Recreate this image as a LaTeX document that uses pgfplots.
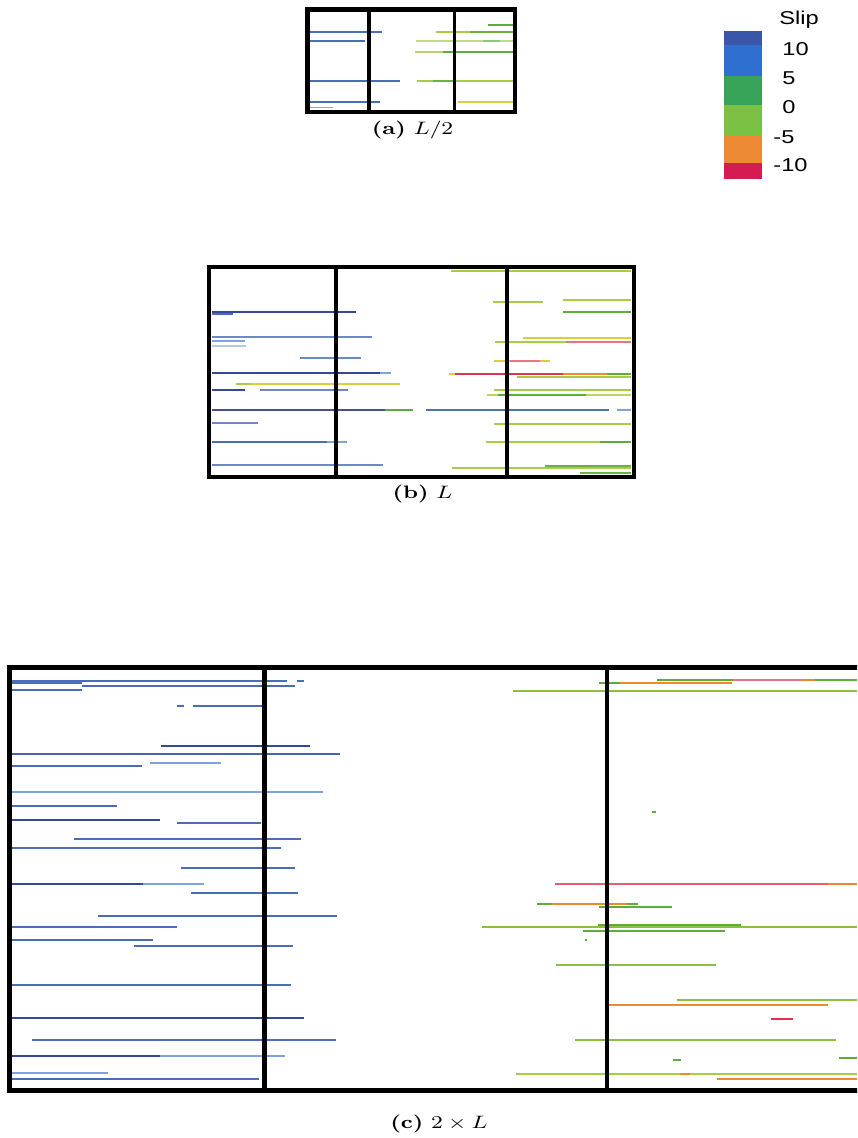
\documentclass[border=0pt]{standalone}
\usepackage{pgfplots}
\pgfplotsset{compat=1.18}
\usepackage{graphicx}
\usepackage{fontspec}
\newfontfamily\cbfont{Liberation Sans}

% slip colour bands
\definecolor{cbA}{HTML}{3A56A8}
\definecolor{cbB}{HTML}{2F6FCF}
\definecolor{cbC}{HTML}{38A45A}
\definecolor{cbD}{HTML}{7CC144}
\definecolor{cbE}{HTML}{EE8A35}
\definecolor{cbF}{HTML}{D61A52}
% rupture segment colours
\definecolor{bl}{HTML}{4A6DB8}
\definecolor{blL}{HTML}{7FA3DA}
\definecolor{blD}{HTML}{34499A}
\definecolor{blV}{HTML}{4B4D95}
\definecolor{gr}{HTML}{5EAC3C}
\definecolor{yg}{HTML}{A8CC42}
\definecolor{ye}{HTML}{D8CF3C}
\definecolor{og}{HTML}{EE8A2E}
\definecolor{rd}{HTML}{E0334F}
\definecolor{pk}{HTML}{EC7482}

\newcommand{\capt}[1]{\scalebox{1.27}[1]{\fontsize{9}{10}\selectfont #1}}
\newcommand{\cbl}[1]{\scalebox{1.27}[1]{\cbfont\fontsize{9.3}{10}\selectfont #1}}

\begin{document}
\begin{tikzpicture}
\begin{axis}[
  scale only axis, width=428.5pt, height=569pt,
  xmin=0, xmax=857, ymin=0, ymax=1138, y dir=reverse,
  hide axis, no marks,
  every axis plot/.append style={line width=0.75pt},
]
\addplot[draw=none] coordinates {(0,0) (857,1138)};

% ---------------- (a) L/2 ----------------
\addplot[bl] coordinates {(310,32) (382,32)};
\addplot[bl] coordinates {(310,41) (365,41)};
\addplot[bl] coordinates {(310,81) (400,81)};
\addplot[bl] coordinates {(310,102) (380,102)};
\addplot[blD!50, line width=0.5pt] coordinates {(310,108) (333,108)};
\addplot[gr] coordinates {(488,25) (513,25)};
\addplot[yg] coordinates {(436,32) (470,32)};
\addplot[gr!80!yg] coordinates {(470,32) (513,32)};
\addplot[yg!70] coordinates {(416,41) (513,41)};
\addplot[gr!70] coordinates {(483,41) (500,41)};
\addplot[yg!80] coordinates {(415,52) (443,52)};
\addplot[gr, line width=1.2pt] coordinates {(443,52) (513,52)};
\addplot[yg] coordinates {(417,81) (513,81)};
\addplot[gr!80!yg] coordinates {(433,81) (453,81)};
\addplot[ye] coordinates {(458,102) (513,102)};

% ---------------- (b) L ----------------
\addplot[blD] coordinates {(212,312) (356,312)};
\addplot[bl] coordinates {(212,314) (233,314)};
\addplot[bl!80] coordinates {(212,337) (372,337)};
\addplot[blL] coordinates {(212,341) (245,341)};
\addplot[blL!60] coordinates {(212,346) (246,346)};
\addplot[bl!80] coordinates {(300,358) (361,358)};
\addplot[blD] coordinates {(212,373) (380,373)};
\addplot[blL] coordinates {(380,373) (391,373)};
\addplot[yg] coordinates {(236,384) (250,384)};
\addplot[ye] coordinates {(250,384) (400,384)};
\addplot[blD] coordinates {(212,390) (245,390)};
\addplot[bl!80] coordinates {(260,390) (348,390)};
\addplot[blV] coordinates {(212,410) (385,410)};
\addplot[gr] coordinates {(385,410) (413,410)};
\addplot[bl!90!gr] coordinates {(426,410) (609,410)};
\addplot[blL] coordinates {(617,410) (631,410)};
\addplot[bl!80] coordinates {(212,423) (258,423)};
\addplot[bl] coordinates {(212,442) (327,442)};
\addplot[blL] coordinates {(327,442) (347,442)};
\addplot[bl!80] coordinates {(212,465) (383,465)};

\addplot[yg] coordinates {(451,271) (631,271)};
\addplot[yg] coordinates {(563,300) (631,300)};
\addplot[yg] coordinates {(493,302) (543,302)};
\addplot[gr, line width=1pt] coordinates {(563,312) (631,312)};
\addplot[ye] coordinates {(523,338) (631,338)};
\addplot[yg] coordinates {(495,342) (566,342)};
\addplot[pk] coordinates {(566,342) (631,342)};
\addplot[ye] coordinates {(494,361) (510,361)};
\addplot[pk] coordinates {(510,361) (540,361)};
\addplot[ye] coordinates {(540,361) (550,361)};
\addplot[ye] coordinates {(449,374) (455,374)};
\addplot[rd] coordinates {(455,374) (563,374)};
\addplot[og] coordinates {(563,374) (607,374)};
\addplot[gr] coordinates {(607,374) (631,374)};
\addplot[yg] coordinates {(517,377) (631,377)};
\addplot[yg] coordinates {(494,390) (631,390)};
\addplot[yg!80] coordinates {(487,395) (631,395)};
\addplot[gr] coordinates {(498,395) (586,395)};
\addplot[yg] coordinates {(494,424) (631,424)};
\addplot[yg] coordinates {(486,442) (600,442)};
\addplot[gr] coordinates {(600,442) (631,442)};
\addplot[gr!80!yg] coordinates {(545,466) (631,466)};
\addplot[yg] coordinates {(452,468) (631,468)};
\addplot[gr!80!yg] coordinates {(580,473) (631,473)};

% ---------------- (c) 2 x L ----------------
\addplot[bl, line width=1pt] coordinates {(12,681) (287,681)};
\addplot[bl, line width=1pt] coordinates {(297,681) (304,681)};
\addplot[bl, line width=1pt] coordinates {(12,683) (82,683)};
\addplot[bl, line width=1pt] coordinates {(82,686) (295,686)};
\addplot[bl, line width=1pt] coordinates {(12,690) (82,690)};
\addplot[bl, line width=1pt] coordinates {(177,706) (184,706)};
\addplot[bl, line width=1pt] coordinates {(193,706) (262,706)};
\addplot[blD, line width=1pt] coordinates {(161,746) (310,746)};
\addplot[bl!70!blV, line width=1pt] coordinates {(12,754) (340,754)};
\addplot[blL, line width=1pt] coordinates {(150,763) (221,763)};
\addplot[bl, line width=1pt] coordinates {(12,766) (142,766)};
\addplot[blL, line width=1pt] coordinates {(12,792) (323,792)};
\addplot[bl, line width=1pt] coordinates {(12,806) (117,806)};
\addplot[blD, line width=1pt] coordinates {(12,820) (160,820)};
\addplot[bl, line width=1pt] coordinates {(177,823) (261,823)};
\addplot[bl, line width=1pt] coordinates {(74,839) (301,839)};
\addplot[bl, line width=1pt] coordinates {(12,848) (281,848)};
\addplot[bl, line width=1pt] coordinates {(181,868) (295,868)};
\addplot[blD, line width=1pt] coordinates {(12,884) (143,884)};
\addplot[blL, line width=1pt] coordinates {(143,884) (204,884)};
\addplot[bl, line width=1pt] coordinates {(191,893) (298,893)};
\addplot[bl, line width=1pt] coordinates {(98,916) (337,916)};
\addplot[bl, line width=1pt] coordinates {(12,927) (177,927)};
\addplot[bl, line width=1pt] coordinates {(12,940) (153,940)};
\addplot[bl, line width=1pt] coordinates {(134,946) (293,946)};
\addplot[bl, line width=1pt] coordinates {(12,985) (291,985)};
\addplot[blD, line width=1pt] coordinates {(12,1018) (304,1018)};
\addplot[bl, line width=1pt] coordinates {(32,1040) (336,1040)};
\addplot[blD, line width=1.2pt] coordinates {(12,1056) (160,1056)};
\addplot[blL, line width=1pt] coordinates {(160,1056) (285,1056)};
\addplot[blL, line width=1pt] coordinates {(12,1073) (108,1073)};
\addplot[bl, line width=1pt] coordinates {(12,1079) (259,1079)};

\addplot[gr, line width=1pt] coordinates {(657,680) (733,680)};
\addplot[pk, line width=1pt] coordinates {(733,680) (802,680)};
\addplot[og, line width=1pt] coordinates {(802,680) (815,680)};
\addplot[gr, line width=1pt] coordinates {(815,680) (857,680)};
\addplot[gr, line width=1pt] coordinates {(599,683) (620,683)};
\addplot[og, line width=1pt] coordinates {(620,683) (732,683)};
\addplot[yg!60!gr, line width=1pt] coordinates {(513,691) (857,691)};
\addplot[gr, line width=1pt] coordinates {(652,812) (656,812)};
\addplot[rd!80, line width=1pt] coordinates {(555,884) (828,884)};
\addplot[og, line width=1pt] coordinates {(828,884) (857,884)};
\addplot[gr, line width=1pt] coordinates {(537,904) (552,904)};
\addplot[og, line width=1pt] coordinates {(552,904) (627,904)};
\addplot[gr, line width=1pt] coordinates {(627,904) (638,904)};
\addplot[gr, line width=1pt] coordinates {(599,907) (672,907)};
\addplot[gr, line width=1pt] coordinates {(598,925) (741,925)};
\addplot[yg!60!gr, line width=1pt] coordinates {(482,927) (857,927)};
\addplot[gr, line width=1pt] coordinates {(583,931) (725,931)};
\addplot[gr, line width=1pt] coordinates {(585,940) (587,940)};
\addplot[yg!60!gr, line width=1pt] coordinates {(556,965) (716,965)};
\addplot[yg!60!gr, line width=1pt] coordinates {(677,1000) (857,1000)};
\addplot[og, line width=1pt] coordinates {(609,1005) (828,1005)};
\addplot[rd, line width=1pt] coordinates {(771,1019) (793,1019)};
\addplot[yg!60!gr, line width=1pt] coordinates {(575,1040) (836,1040)};
\addplot[gr, line width=1pt] coordinates {(839,1058) (857,1058)};
\addplot[gr, line width=1.2pt] coordinates {(673,1060) (681,1060)};
\addplot[yg, line width=1pt] coordinates {(516,1074) (680,1074)};
\addplot[og, line width=1pt] coordinates {(680,1074) (690,1074)};
\addplot[yg, line width=1pt] coordinates {(690,1074) (857,1074)};
\addplot[og, line width=1pt] coordinates {(717,1079) (857,1079)};

% ---------------- frames and dividers ----------------
\addplot[black, line width=2.1pt] coordinates {(307.5,9.5) (515,9.5) (515,112) (307.5,112)} -- cycle;
\addplot[black, line width=1.8pt] coordinates {(369,9.5) (369,112)};
\addplot[black, line width=1.8pt] coordinates {(454.5,9.5) (454.5,112)};

\addplot[black, line width=2.1pt] coordinates {(209,267) (634,267) (634,477) (209,477)} -- cycle;
\addplot[black, line width=2.1pt] coordinates {(336,267) (336,477)};
\addplot[black, line width=2.1pt] coordinates {(507,267) (507,477)};

\addplot[black, line width=2.3pt] coordinates {(9.5,667.5) (860,667.5) (860,1090.5) (9.5,1090.5)} -- cycle;
\addplot[black, line width=2.3pt] coordinates {(264.5,667.5) (264.5,1090.5)};
\addplot[black, line width=2.3pt] coordinates {(607,667.5) (607,1090.5)};

% ---------------- slip colour bar ----------------
\addplot[fill=cbA, draw=none] coordinates {(724,31) (762,31) (762,45) (724,45)} -- cycle;
\addplot[fill=cbB, draw=none] coordinates {(724,45) (762,45) (762,76) (724,76)} -- cycle;
\addplot[fill=cbC, draw=none] coordinates {(724,76) (762,76) (762,105) (724,105)} -- cycle;
\addplot[fill=cbD, draw=none] coordinates {(724,105) (762,105) (762,135) (724,135)} -- cycle;
\addplot[fill=cbE, draw=none] coordinates {(724,135) (762,135) (762,163) (724,163)} -- cycle;
\addplot[fill=cbF, draw=none] coordinates {(724,163) (762,163) (762,179) (724,179)} -- cycle;

\node[anchor=west, inner sep=0pt] at (axis cs:779,20) {\cbl{Slip}};
\node[anchor=west, inner sep=0pt] at (axis cs:782,49) {\cbl{10}};
\node[anchor=west, inner sep=0pt] at (axis cs:782,78) {\cbl{5}};
\node[anchor=west, inner sep=0pt] at (axis cs:782,107) {\cbl{0}};
\node[anchor=west, inner sep=0pt] at (axis cs:773,137) {\cbl{-5}};
\node[anchor=west, inner sep=0pt] at (axis cs:773,165) {\cbl{-10}};

% ---------------- captions ----------------
\node[inner sep=0pt] at (axis cs:412.5,130) {\capt{\textbf{(a)} $L/2$}};
\node[inner sep=0pt] at (axis cs:422.5,494) {\capt{\textbf{(b)} $L$}};
\node[inner sep=0pt] at (axis cs:439,1124) {\capt{\textbf{(c)} $2\times L$}};
\end{axis}
\end{tikzpicture}
\end{document}
